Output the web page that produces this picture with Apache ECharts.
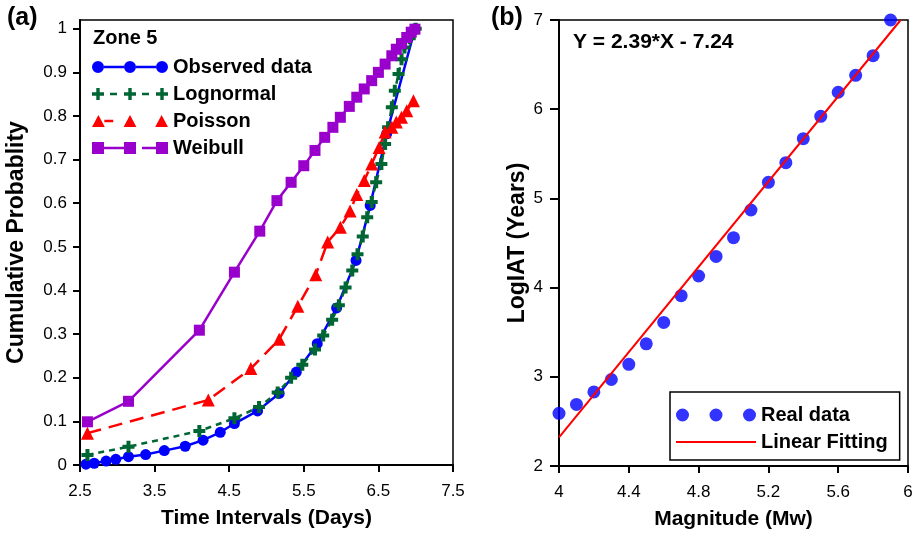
<!DOCTYPE html>
<html><head><meta charset="utf-8">
<script src="https://cdn.jsdelivr.net/npm/echarts@6/dist/echarts.min.js"></script>
<style>html,body{margin:0;padding:0;background:#fff}#c{width:916px;height:536px}</style>
</head><body><div id="c"></div>
<script>
// ---- Panel (a) data ----
const obsX = [2.58,2.69,2.85,2.98,3.15,3.38,3.63,3.91,4.15,4.38,4.57,4.88,5.17,5.40,5.68,5.94,6.20,6.39,6.61,6.99];
const obsY = [0.002,0.004,0.009,0.013,0.019,0.024,0.033,0.043,0.057,0.075,0.095,0.124,0.164,0.213,0.278,0.36,0.469,0.595,0.759,1.0];
const logX = [2.6,3.15,4.1,4.57,4.9,5.15,5.33,5.48,5.65,5.76,5.88,5.97,6.06,6.15,6.22,6.29,6.35,6.41,6.47,6.54,6.59,6.63,6.68,6.72,6.77,6.81,6.85,6.92,7.0];
const logY = [0.023,0.042,0.078,0.107,0.133,0.166,0.2,0.23,0.265,0.297,0.333,0.366,0.407,0.446,0.483,0.524,0.568,0.603,0.648,0.69,0.736,0.774,0.82,0.858,0.896,0.93,0.957,0.978,1.0];
const poiX = [2.6,4.22,4.79,5.17,5.42,5.66,5.82,5.99,6.12,6.21,6.31,6.41,6.51,6.59,6.68,6.74,6.81,6.88,6.97];
const poiY = [0.073,0.149,0.221,0.288,0.364,0.436,0.511,0.545,0.582,0.62,0.652,0.69,0.728,0.763,0.774,0.786,0.797,0.812,0.835];
const weiX = [2.6,3.15,4.1,4.57,4.91,5.14,5.33,5.50,5.65,5.78,5.89,5.99,6.11,6.21,6.31,6.41,6.50,6.59,6.68,6.74,6.81,6.88,6.94,6.99];
const weiY = [0.099,0.146,0.309,0.442,0.536,0.606,0.648,0.686,0.721,0.751,0.774,0.797,0.822,0.843,0.862,0.881,0.9,0.919,0.938,0.953,0.966,0.98,0.992,0.999];
const aXTicks = [2.5,3.5,4.5,5.5,6.5,7.5];
const aYTicks = [0,0.1,0.2,0.3,0.4,0.5,0.6,0.7,0.8,0.9,1];

// ---- Panel (b) data ----
const magX = [4.0,4.1,4.2,4.3,4.4,4.5,4.6,4.7,4.8,4.9,5.0,5.1,5.2,5.3,5.4,5.5,5.6,5.7,5.8,5.9];
const logIAT = [2.59,2.69,2.83,2.97,3.14,3.37,3.61,3.91,4.13,4.35,4.56,4.87,5.18,5.40,5.67,5.92,6.19,6.38,6.60,7.0];
const fitX = [4.0,5.958];
const fitY = [2.32,7.0];
const bXTicks = [4,4.4,4.8,5.2,5.6,6];
const bYTicks = [2,3,4,5,6,7];

const FONT = 'Liberation Sans, Arial, sans-serif';
const zip = (a,b) => a.map((v,i)=>[v,b[i]]);

function circ(cx,cy,r){return `M${cx-r},${cy}a${r},${r} 0 1,0 ${2*r},0a${r},${r} 0 1,0 ${-2*r},0Z`;}
function plus(cx){return `M${cx-1.7},0H${cx+1.7}V4.3H${cx+6}V7.7H${cx+1.7}V12H${cx-1.7}V7.7H${cx-6}V4.3H${cx-1.7}Z`;}
function tri(cx){return `M${cx},0L${cx+6.5},12L${cx-6.5},12Z`;}
function sq(cx){return `M${cx-6},0H${cx+6}V12H${cx-6}Z`;}
function seg(x1,x2,h){return `M${x1},${6-h/2}H${x2}V${6+h/2}H${x1}Z`;}

const iconObs = 'path://' + circ(6,6,6)+circ(38,6,6)+circ(70,6,6)+seg(12,32,2.5)+seg(44,64,2.5);
const iconLog = 'path://' + plus(6)+plus(38)+plus(70)+seg(18,25,2.5)+seg(50,57,2.5);
const iconPoi = 'path://' + tri(6)+tri(38)+tri(70)+seg(12,21,2.5);
const iconWei = 'path://' + sq(6)+sq(38)+sq(70)+seg(12,32,2.5)+seg(50,64,2.5);
const iconReal = 'path://' + circ(6.5,6.5,6.5)+circ(40,6.5,6.5)+circ(73.5,6.5,6.5);
const plusSym = 'path://M4,0H8V4H12V8H8V12H4V8H0V4H4Z';

const C_BLUE='#0000ff', C_GREEN='#006633', C_RED='#ff0000', C_PURP='#9900cc';

const axisCommon = {
  axisLine:{lineStyle:{color:'#000',width:2}},
  splitLine:{show:false}
};
const xName = {color:'#000',fontFamily:FONT,fontWeight:'bold',fontSize:21};
const yName = {color:'#000',fontFamily:FONT,fontWeight:'bold',fontSize:23};

const chart = echarts.init(document.getElementById('c'), null, {renderer:'canvas'});
chart.setOption({
  backgroundColor:'#fff',
  animation:false,
  title:[
    {text:'(a)',left:7,top:6,padding:0,textStyle:{fontFamily:FONT,fontWeight:'bold',fontSize:25,color:'#000'}},
    {text:'(b)',left:491,top:6,padding:0,textStyle:{fontFamily:FONT,fontWeight:'bold',fontSize:25,color:'#000'}},
    {text:'Zone 5',left:93,top:28,padding:0,textStyle:{fontFamily:FONT,fontWeight:'bold',fontSize:20,color:'#000'}},
    {text:'Y = 2.39*X - 7.24',left:573,top:32,padding:0,textStyle:{fontFamily:FONT,fontWeight:'bold',fontSize:21,color:'#000'}}
  ],
  grid:[
    {left:80,top:20,width:373,height:445,show:true,borderColor:'#000',borderWidth:1.5,backgroundColor:'transparent'},
    {left:559,top:20,width:349,height:446,show:true,borderColor:'#000',borderWidth:1.5,backgroundColor:'transparent'}
  ],
  xAxis:[
    Object.assign({}, axisCommon, {gridIndex:0,type:'value',min:2.5,max:7.5,
      name:'Time Intervals (Days)',nameLocation:'middle',nameGap:43,nameTextStyle:xName,
      axisTick:{customValues:aXTicks,length:7,lineStyle:{color:'#000',width:2}},
      axisLabel:{customValues:aXTicks,margin:18,color:'#000',fontFamily:FONT,fontSize:17}}),
    Object.assign({}, axisCommon, {gridIndex:1,type:'value',min:4,max:6,
      name:'Magnitude (Mw)',nameLocation:'middle',nameGap:43,nameTextStyle:xName,
      axisTick:{customValues:bXTicks,length:7,lineStyle:{color:'#000',width:2}},
      axisLabel:{customValues:bXTicks,margin:18,color:'#000',fontFamily:FONT,fontSize:17}})
  ],
  yAxis:[
    Object.assign({}, axisCommon, {gridIndex:0,type:'value',min:0,max:1.02,
      name:'Cumulative Probablity',nameLocation:'middle',nameGap:52,nameTextStyle:yName,
      axisTick:{customValues:aYTicks,length:7,lineStyle:{color:'#000',width:2}},
      axisLabel:{customValues:aYTicks,margin:13,color:'#000',fontFamily:FONT,fontSize:17}}),
    Object.assign({}, axisCommon, {gridIndex:1,type:'value',min:2,max:7,
      name:'LogIAT (Years)',nameLocation:'middle',nameGap:20,nameTextStyle:yName,
      axisTick:{customValues:bYTicks,length:9,lineStyle:{color:'#000',width:2}},
      axisLabel:{customValues:bYTicks,margin:16,color:'#000',fontFamily:FONT,fontSize:17}})
  ],
  legend:[
    {orient:'vertical',left:92,top:57,padding:0,itemWidth:76,itemHeight:12,itemGap:7,
     textStyle:{fontFamily:FONT,fontWeight:'bold',fontSize:20,color:'#000'},
     selectedMode:false,
     data:[
      {name:'Observed data',icon:iconObs,itemStyle:{color:C_BLUE,borderWidth:0}},
      {name:'Lognormal',icon:iconLog,itemStyle:{color:C_GREEN,borderWidth:0}},
      {name:'Poisson',icon:iconPoi,itemStyle:{color:C_RED,borderWidth:0}},
      {name:'Weibull',icon:iconWei,itemStyle:{color:C_PURP,borderWidth:0}}
     ]},
    {orient:'vertical',left:670,top:392,padding:[13,12,8,5],itemWidth:80,itemHeight:13,itemGap:7,
     borderColor:'#000',borderWidth:1.5,backgroundColor:'#fff',
     textStyle:{fontFamily:FONT,fontWeight:'bold',fontSize:20,color:'#000'},
     selectedMode:false,
     data:[
      {name:'Real data',icon:iconReal,itemStyle:{color:C_BLUE,borderWidth:0}},
      {name:'Linear Fitting',itemStyle:{color:'rgba(0,0,0,0)',borderWidth:0}}
     ]}
  ],
  series:[
    {name:'Observed data',type:'line',xAxisIndex:0,yAxisIndex:0,data:zip(obsX,obsY),clip:false,
     symbol:'circle',symbolSize:11,itemStyle:{color:C_BLUE,borderWidth:0},lineStyle:{color:C_BLUE,width:2.5}},
    {name:'Lognormal',type:'line',xAxisIndex:0,yAxisIndex:0,data:zip(logX,logY),clip:false,
     symbol:plusSym,symbolSize:12,itemStyle:{color:C_GREEN,borderWidth:0},lineStyle:{color:C_GREEN,width:2.5,type:[6,5]}},
    {name:'Poisson',type:'line',xAxisIndex:0,yAxisIndex:0,data:zip(poiX,poiY),clip:false,
     symbol:'triangle',symbolSize:13,itemStyle:{color:C_RED,borderWidth:0},lineStyle:{color:C_RED,width:2.5,type:[14,8]}},
    {name:'Weibull',type:'line',xAxisIndex:0,yAxisIndex:0,data:zip(weiX,weiY),clip:false,
     symbol:'rect',symbolSize:11,itemStyle:{color:C_PURP,borderWidth:0},lineStyle:{color:C_PURP,width:2.5}},
    {name:'Real data',type:'scatter',xAxisIndex:1,yAxisIndex:1,data:zip(magX,logIAT),clip:false,
     symbol:'circle',symbolSize:13,itemStyle:{color:C_BLUE},z:3},
    {name:'Linear Fitting',type:'line',xAxisIndex:1,yAxisIndex:1,data:zip(fitX,fitY),
     symbol:'none',showSymbol:false,lineStyle:{color:C_RED,width:2},z:4}
  ]
});
</script></body></html>
